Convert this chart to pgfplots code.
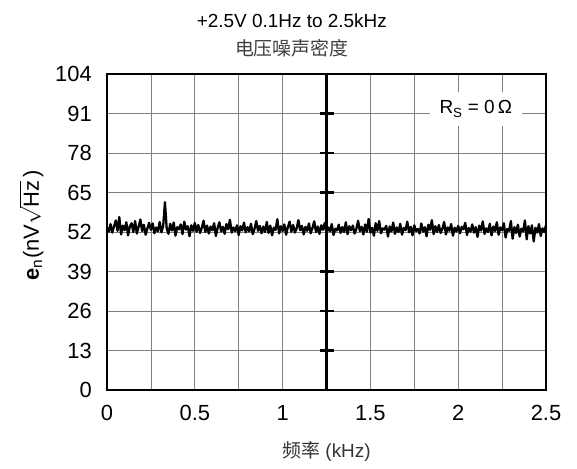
\documentclass[border=0pt]{standalone}
\usepackage{pgfplots}
\pgfplotsset{compat=1.18}
\usepackage{pgfplotstable}
\usepackage{fontspec}
\setmainfont{Liberation Sans}
\newfontfamily\cjk{Noto Sans CJK SC}
\usetikzlibrary{calc}

\pgfplotstableread{
x y
0.00 53.5
0.01 52.1
0.02 54.6
0.03 51.8
0.04 53.9
0.05 55.8
0.06 52.4
0.07 56.9
0.08 51.2
0.09 54.1
0.10 52.6
0.11 55.2
0.12 50.9
0.13 53.8
0.14 54.9
0.15 52.0
0.16 55.6
0.17 51.5
0.18 53.7
0.19 56.1
0.20 52.3
0.21 54.4
0.22 51.1
0.23 53.2
0.24 55.0
0.25 52.7
0.26 54.8
0.27 51.6
0.28 53.5
0.29 52.2
0.30 55.3
0.31 51.9
0.32 54.0
0.33 61.8
0.34 53.1
0.35 51.4
0.36 54.7
0.37 52.5
0.38 55.1
0.39 50.8
0.40 53.6
0.41 52.9
0.42 54.5
0.43 51.3
0.44 55.4
0.45 52.8
0.46 53.9
0.47 50.6
0.48 54.2
0.49 52.4
0.50 55.0
0.51 52.1
0.52 54.3
0.53 51.7
0.54 53.4
0.55 55.7
0.56 52.0
0.57 54.1
0.58 51.5
0.59 53.8
0.60 52.6
0.61 54.9
0.62 50.7
0.63 53.3
0.64 55.2
0.65 52.2
0.66 53.7
0.67 51.4
0.68 54.6
0.69 52.9
0.70 56.0
0.71 51.8
0.72 53.5
0.73 52.3
0.74 54.2
0.75 51.0
0.76 53.9
0.77 52.5
0.78 55.1
0.79 51.9
0.80 53.6
0.81 52.2
0.82 54.7
0.83 51.3
0.84 53.0
0.85 55.6
0.86 52.4
0.87 54.0
0.88 51.6
0.89 53.8
0.90 52.0
0.91 55.3
0.92 51.7
0.93 54.1
0.94 50.9
0.95 53.4
0.96 52.7
0.97 56.2
0.98 51.5
0.99 53.9
1.00 52.3
1.01 54.5
1.02 51.1
1.03 53.6
1.04 55.4
1.05 52.1
1.06 54.3
1.07 51.8
1.08 53.2
1.09 55.9
1.10 52.6
1.11 54.0
1.12 51.2
1.13 53.7
1.14 52.4
1.15 54.8
1.16 51.6
1.17 53.3
1.18 55.5
1.19 52.0
1.20 53.8
1.21 51.4
1.22 54.2
1.23 52.7
1.24 55.0
1.25 51.9
1.26 53.5
1.27 52.2
1.28 54.6
1.29 51.0
1.30 53.1
1.31 52.5
1.32 54.4
1.33 51.7
1.34 53.6
1.35 52.0
1.36 55.2
1.37 51.3
1.38 53.9
1.39 52.6
1.40 54.1
1.41 51.5
1.42 53.0
1.43 55.7
1.44 52.3
1.45 53.7
1.46 51.2
1.47 54.5
1.48 52.1
1.49 56.3
1.50 51.8
1.51 53.4
1.52 50.8
1.53 54.9
1.54 52.4
1.55 55.6
1.56 51.6
1.57 53.2
1.58 52.8
1.59 54.0
1.60 50.5
1.61 53.8
1.62 52.2
1.63 55.1
1.64 51.4
1.65 53.5
1.66 52.0
1.67 54.7
1.68 51.1
1.69 53.3
1.70 52.6
1.71 55.4
1.72 51.9
1.73 53.7
1.74 50.9
1.75 54.2
1.76 52.3
1.77 53.0
1.78 51.5
1.79 54.8
1.80 52.1
1.81 53.6
1.82 50.6
1.83 54.4
1.84 52.7
1.85 55.9
1.86 51.3
1.87 53.9
1.88 52.0
1.89 54.3
1.90 51.7
1.91 53.1
1.92 55.3
1.93 51.2
1.94 53.5
1.95 52.4
1.96 54.6
1.97 50.8
1.98 53.4
1.99 52.2
2.00 54.0
2.01 51.6
2.02 53.7
2.03 52.9
2.04 55.0
2.05 51.0
2.06 53.3
2.07 52.1
2.08 54.5
2.09 51.8
2.10 53.6
2.11 50.4
2.12 54.1
2.13 52.5
2.14 55.5
2.15 51.4
2.16 53.2
2.17 52.0
2.18 54.7
2.19 50.9
2.20 53.8
2.21 52.3
2.22 55.2
2.23 51.1
2.24 53.5
2.25 52.6
2.26 54.9
2.27 50.2
2.28 53.0
2.29 52.4
2.30 55.6
2.31 49.8
2.32 53.6
2.33 51.7
2.34 54.4
2.35 50.5
2.36 53.1
2.37 52.2
2.38 55.8
2.39 49.6
2.40 53.9
2.41 51.5
2.42 54.2
2.43 48.9
2.44 53.4
2.45 51.8
2.46 54.6
2.47 50.7
2.48 53.2
2.49 52.0
2.50 54.3
}\noisedata

\begin{document}
\begin{tikzpicture}
\begin{axis}[
  scale only axis, width=439bp, height=316bp,
  xmin=0, xmax=2.5, ymin=0, ymax=104,
  xtick={0,0.5,1,1.5,2,2.5},
  xticklabels={0,0.5,1,1.5,2,2.5},
  minor xtick={0.25,0.75,1.25,1.75,2.25},
  ytick={0,13,26,39,52,65,78,91,104},
  grid=both,
  major grid style={draw=black!50, line width=0.8pt},
  minor grid style={draw=black!50, line width=0.8pt},
  major tick length=0pt, minor tick length=0pt,
  axis line style={line width=1.8pt},
  /pgf/number format/assume math mode=true,
  tick label style={font=\fontsize{22}{24}\selectfont, inner sep=0pt},
  yticklabel style={xshift=-15bp},
  xticklabel style={yshift=-15bp},
  clip=false,
]
\addplot[black, line width=2.3pt, line join=round] table[x=x, y=y] {\noisedata};
\draw[line width=2.4pt] (axis cs:1.25,0) -- (axis cs:1.25,104);
\addplot[only marks, mark=-, mark size=7bp, mark options={line width=2.2pt, black}]
  coordinates {(1.25,13) (1.25,26) (1.25,39) (1.25,65) (1.25,78) (1.25,91)};
\node[fill=white, inner sep=0pt, minimum width=92bp, minimum height=34bp,
      font=\fontsize{19}{22}\selectfont] at (axis cs:2.10,92.5)
  {R\textsubscript{S} = 0\,Ω};
\node[font=\fontsize{19}{22}\selectfont] at (axis description cs:0.421,1.168)
  {+2.5V 0.1Hz to 2.5kHz};
\node[font=\cjk\fontsize{19}{22}\selectfont, text=black!75] at (axis description cs:0.421,1.082)
  {电压噪声密度};
\node[font=\fontsize{19}{22}\selectfont, text=black!80] at (axis description cs:0.5,-0.196)
  {{\cjk 频率} (kHz)};
\node[rotate=90, font=\fontsize{22}{24}\selectfont, inner sep=1pt] at (axis description cs:-0.172,0.522)
  {\textbf{e}\textsubscript{n}(nV$\sqrt{\mbox{Hz}}$\,)};
\end{axis}
\path ($(current axis.south west)+(-107bp,-79bp)$) rectangle ($(current axis.north east)+(31bp,74bp)$);
\end{tikzpicture}
\end{document}
